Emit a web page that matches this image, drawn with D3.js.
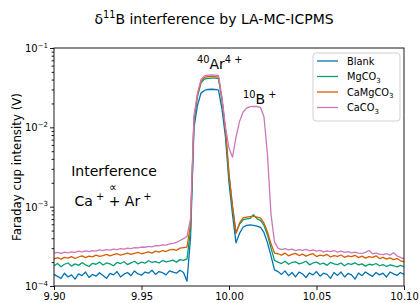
<!DOCTYPE html>
<html>
<head>
<meta charset="utf-8">
<script src="https://cdn.jsdelivr.net/npm/d3@7"></script>
<style>
  body { margin: 0; background: #fff; }
  text { font-family: "DejaVu Sans", sans-serif; fill: #000; }
</style>
</head>
<body>
<script>
const width = 419;
const height = 303;
const marginTop = 48;
const marginRight = 15;
const marginBottom = 17;
const marginLeft = 54;

// x grid: 9.900 .. 10.100 step 0.002 (101 points)
const xs = d3.range(101).map(i => 9.9 + i * 0.002);

// intensities in units of 1e-4 V
const blank = [1.40,1.32,1.25,1.45,1.30,1.38,1.22,1.42,1.35,1.50,1.28,1.40,1.33,1.47,1.36,1.25,1.44,1.38,1.52,1.30,
  1.41,1.48,1.35,1.55,1.42,1.37,1.50,1.45,1.58,1.40,1.52,1.47,1.38,1.55,1.50,1.45,1.58,1.48,
  1.15, 4, 100, 190, 270, 292, 300, 302, 300, 295, 170, 75, 20, 8, 3.5, 4.6,
  5.5, 5.8, 5.9, 5.8, 5.7, 5.5, 4.7, 3.5, 2.4, 1.6,
  1.52,1.40,1.55,1.35,1.48,1.30,1.50,1.42,1.28,1.46,1.38,1.52,1.33,1.45,1.40,1.25,1.48,1.36,1.50,1.30,
  1.44,1.38,1.22,1.46,1.35,1.50,1.40,1.32,1.48,1.38,1.45,1.30,1.50,1.42,1.36,1.48,1.40];

const mgco3 = [1.80,1.92,1.75,1.88,1.95,1.78,1.90,1.82,1.97,1.85,1.76,1.93,1.88,2.00,1.84,1.95,1.90,1.80,1.98,1.92,
  2.02,1.86,1.96,2.05,1.90,2.00,1.94,2.08,1.98,2.03,1.95,2.10,2.02,2.06,2.12,2.00,2.15,2.10,
  2.2, 5, 125, 245, 365, 405, 415, 418, 416, 410, 220, 90, 25, 10, 4.7, 6.0,
  6.8, 7.0, 7.1, 7.9, 7.0, 6.7, 5.8, 4.4, 3.0, 2.1,
  2.00,1.92,2.05,1.88,1.98,2.02,1.90,1.96,2.05,1.85,1.95,2.00,1.88,1.94,1.82,1.98,1.90,1.86,1.95,1.80,
  1.92,1.87,1.96,1.84,1.90,1.78,1.88,1.84,1.92,1.80,1.86,1.76,1.85,1.80,1.74,1.82,1.75];

const camgco3 = [2.20,2.28,2.18,2.30,2.25,2.35,2.22,2.32,2.40,2.28,2.38,2.33,2.45,2.36,2.42,2.50,2.40,2.48,2.55,2.45,
  2.52,2.60,2.50,2.58,2.65,2.55,2.62,2.70,2.60,2.75,2.68,2.80,2.72,2.85,2.90,2.82,3.00,3.05,
  3.1, 6, 130, 255, 380, 425, 435, 438, 436, 430, 225, 92, 26, 10, 4.6, 6.2,
  7.2, 7.4, 7.5, 7.6, 7.4, 7.2, 6.2, 4.8, 3.4, 2.6,
  2.55,2.45,2.60,2.40,2.50,2.58,2.42,2.52,2.38,2.48,2.55,2.35,2.45,2.40,2.50,2.32,2.42,2.36,2.46,2.30,
  2.40,2.35,2.44,2.28,2.38,2.25,2.35,2.30,2.40,2.22,2.30,2.18,2.26,2.15,2.22,2.08,2.02];

const caco3 = [2.60,2.65,2.58,2.68,2.62,2.70,2.66,2.75,2.70,2.78,2.72,2.80,2.76,2.85,2.80,2.88,2.84,2.92,2.88,2.95,
  2.92,3.00,2.96,3.05,3.02,3.10,3.08,3.15,3.12,3.22,3.20,3.30,3.28,3.40,3.45,3.55,3.75,3.95,
  4.2, 7, 140, 270, 400, 445, 455, 458, 456, 450, 235, 100, 55, 42, 75, 118,
  155, 175, 182, 184, 183, 178, 135, 45, 8, 3.6,
  3.00,2.88,2.95,2.85,2.92,2.80,2.88,2.82,2.90,2.78,2.85,2.76,2.82,2.70,2.78,2.72,2.80,2.68,2.75,2.66,
  2.72,2.62,2.68,2.60,2.58,2.65,2.80,2.55,2.60,2.52,2.48,2.55,2.45,2.62,2.40,2.30,2.20];

const seriesNames = ["Blank", "MgCO", "CaMgCO", "CaCO"];
const seriesValues = [blank, mgco3, camgco3, caco3];
const colors = ["#0173b2", "#029e73", "#d55e00", "#cc78bc"];
const xTicks = [9.90, 9.95, 10.00, 10.05, 10.10];
const yTicks = [1e-4, 1e-3, 1e-2, 1e-1];

const svg = d3.select("body").append("svg")
  .attr("width", width)
  .attr("height", height);

const x = d3.scaleLinear()
  .domain([9.9, 10.1])
  .range([marginLeft, width - marginRight]);

const y = d3.scaleLog()
  .domain([1e-4, 1e-1])
  .range([height - marginBottom, marginTop]);

svg.append("clipPath").attr("id", "clip")
  .append("rect")
  .attr("x", marginLeft).attr("y", marginTop)
  .attr("width", width - marginLeft - marginRight)
  .attr("height", height - marginTop - marginBottom);

const line = d3.line()
  .x((d, i) => x(xs[i]))
  .y(d => y(d * 1e-4));

svg.append("g").attr("clip-path", "url(#clip)")
  .selectAll("path")
  .data(seriesValues)
  .join("path")
    .attr("d", d => line(d))
    .attr("fill", "none")
    .attr("stroke", (d, i) => colors[i])
    .attr("stroke-width", 1.3)
    .attr("stroke-linejoin", "round");

// axes
const xAxis = svg.append("g")
  .attr("transform", `translate(0,${height - marginBottom})`)
  .call(d3.axisBottom(x).tickValues(xTicks).tickFormat(d3.format(".2f")).tickSize(4).tickPadding(3));
xAxis.select(".domain").remove();
xAxis.selectAll("text").attr("font-size", 10).attr("font-family", "DejaVu Sans");

const minor = [];
for (let e = -4; e < -1; e++) for (let k = 2; k <= 9; k++) minor.push(k * Math.pow(10, e));

const yMinor = svg.append("g")
  .attr("transform", `translate(${marginLeft},0)`)
  .call(d3.axisLeft(y).tickValues(minor).tickFormat("").tickSize(2.4));
yMinor.select(".domain").remove();

const yAxis = svg.append("g")
  .attr("transform", `translate(${marginLeft},0)`)
  .call(d3.axisLeft(y).tickValues(yTicks).tickFormat("").tickSize(4));
yAxis.select(".domain").remove();

svg.selectAll("g.tick line").attr("stroke-width", 0.9);

yTicks.forEach(v => {
  const t = svg.append("text")
    .attr("x", marginLeft - 6)
    .attr("y", y(v) + 4)
    .attr("text-anchor", "end")
    .attr("font-size", 10);
  t.append("tspan").text("10");
  t.append("tspan").attr("font-size", 7).attr("dy", -4.5).text("\u2212" + (-Math.log10(v)).toFixed(0));
});

svg.append("rect")
  .attr("x", marginLeft).attr("y", marginTop)
  .attr("width", width - marginLeft - marginRight)
  .attr("height", height - marginTop - marginBottom)
  .attr("fill", "none")
  .attr("stroke", "#000")
  .attr("stroke-width", 0.9);

// title and axis label
const title = svg.append("text")
  .attr("x", 214).attr("y", 24)
  .attr("text-anchor", "middle")
  .attr("font-size", 14);
title.append("tspan").text("\u03b4");
title.append("tspan").attr("font-size", 9.8).attr("dy", -6).text("11");
title.append("tspan").attr("dy", 6).text("B interference by LA-MC-ICPMS");

svg.append("text")
  .attr("transform", `translate(17,${(marginTop + height - marginBottom) / 2}) rotate(-90)`)
  .attr("text-anchor", "middle")
  .attr("dy", "0.35em")
  .attr("font-size", 11.8)
  .text("Faraday cup intensity (V)");

// peak annotations
const ar = svg.append("text").attr("x", 197).attr("y", 69).attr("font-size", 14);
ar.append("tspan").attr("font-size", 9.8).attr("dy", -6).text("40");
ar.append("tspan").attr("dy", 6).text("Ar");
ar.append("tspan").attr("font-size", 9.8).attr("dy", -6).text("4 +");

const b = svg.append("text").attr("x", 243).attr("y", 104).attr("font-size", 14);
b.append("tspan").attr("font-size", 9.8).attr("dy", -6).text("10");
b.append("tspan").attr("dy", 6).text("B");
b.append("tspan").attr("font-size", 9.8).attr("dy", -6).text(" +");

svg.append("text").attr("x", 114).attr("y", 176)
  .attr("text-anchor", "middle").attr("font-size", 14).text("Interference");
svg.append("text").attr("x", 113).attr("y", 191)
  .attr("text-anchor", "middle").attr("font-size", 11).text("\u221d");
const ca = svg.append("text").attr("x", 113).attr("y", 206)
  .attr("text-anchor", "middle").attr("font-size", 14);
ca.append("tspan").text("Ca");
ca.append("tspan").attr("font-size", 9.8).attr("dy", -6).text(" +");
ca.append("tspan").attr("dy", 6).text(" + Ar");
ca.append("tspan").attr("font-size", 9.8).attr("dy", -6).text(" +");

// legend
const legend = svg.append("g");
legend.append("rect")
  .attr("x", 313).attr("y", 53).attr("width", 87).attr("height", 68).attr("rx", 3)
  .attr("fill", "#fff").attr("fill-opacity", 0.8)
  .attr("stroke", "#ccc").attr("stroke-width", 0.9);

seriesNames.forEach((name, i) => {
  const cy = 61 + i * 15.5;
  legend.append("line")
    .attr("x1", 317).attr("x2", 338).attr("y1", cy).attr("y2", cy)
    .attr("stroke", colors[i]).attr("stroke-width", 1.3);
  const t = legend.append("text").attr("x", 347).attr("y", cy + 3.5).attr("font-size", 9.8).text(name);
  if (i > 0) t.append("tspan").attr("font-size", 7).attr("dy", 2.5).text("3");
});
</script>
</body>
</html>
